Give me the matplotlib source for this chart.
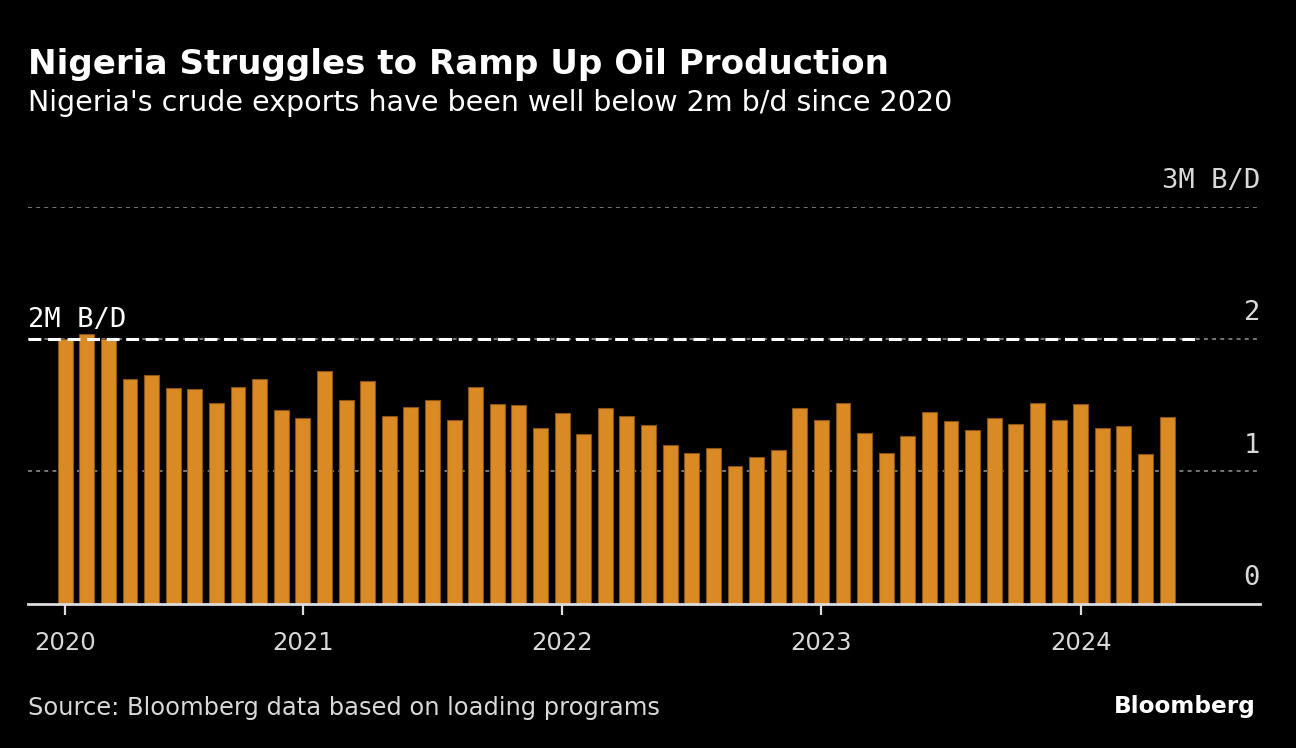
import matplotlib
matplotlib.use("Agg")
import matplotlib.pyplot as plt
import matplotlib.transforms as mtransforms
import numpy as np

# Monthly crude exports, million b/d (Feb 2020 .. May 2024)
months = [f"{y}-{m:02d}" for y in range(2020, 2025) for m in range(1, 13)][1:53]
exports = [2.00, 2.04, 2.00, 1.70, 1.73, 1.63, 1.625, 1.52, 1.635, 1.70, 1.46,
           1.40, 1.76, 1.54, 1.68, 1.42, 1.49, 1.54, 1.39, 1.64, 1.51, 1.50,
           1.33, 1.44, 1.28, 1.48, 1.42, 1.35, 1.20, 1.14, 1.18, 1.04, 1.11,
           1.16, 1.48, 1.39, 1.52, 1.29, 1.14, 1.27, 1.45, 1.38, 1.31, 1.40,
           1.36, 1.52, 1.39, 1.51, 1.33, 1.34, 1.13, 1.41]
year_ticks = ["2020", "2021", "2022", "2023", "2024"]
year_tick_months = ["2020-02", "2021-01", "2022-01", "2023-01", "2024-01"]
y_ticks = [0, 1, 2, 3]
y_tick_labels = ["0", "1", "2", "3M B/D"]
threshold = 2.0
threshold_label = "2M B/D"

title = "Nigeria Struggles to Ramp Up Oil Production"
subtitle = "Nigeria's crude exports have been well below 2m b/d since 2020"
source = "Source: Bloomberg data based on loading programs"

W, H = 1296, 748
fig = plt.figure(figsize=(W / 100, H / 100), dpi=100, facecolor="black")

ax_left, ax_right = 28, 1260
ax_top, ax_bot = 206.7, 603.7
ax = fig.add_axes([ax_left / W, 1 - ax_bot / H, (ax_right - ax_left) / W, (ax_bot - ax_top) / H])
ax.set_facecolor("black")

x = np.arange(len(exports))
ax.bar(x, exports, width=0.69, color="#DA8A24", edgecolor="#8a5418", linewidth=0.8, zorder=3)

ax.set_xlim(-1.72, 55.3)
ax.set_ylim(0, 3)

# gridlines
for yv in y_ticks[1:]:
    ax.axhline(yv, color="#777777", lw=1.4, ls=(0, (2, 2.2)), zorder=1)
# threshold dashed line
ax.plot([-1.72, 52.58], [threshold, threshold], color="white", lw=2.2,
        ls=(0, (4.2, 2.2)), zorder=4)
ax.text(0.0, threshold, threshold_label,
        transform=ax.get_yaxis_transform() +
        mtransforms.ScaledTranslation(0, 9 / 72, fig.dpi_scale_trans),
        ha="left", va="baseline", color="white", fontsize=19.5,
        fontfamily="DejaVu Sans Mono")

# y labels on the right, above gridlines
for yv, lab in zip(y_ticks, y_tick_labels):
    ax.annotate(lab, xy=(1.0, yv), xycoords=ax.get_yaxis_transform(),
                xytext=(0, 13.5), textcoords="offset points",
                ha="right", va="baseline", color="#d9d9d9", fontsize=19.5,
                fontfamily="DejaVu Sans Mono")

for s in ["top", "right", "left"]:
    ax.spines[s].set_visible(False)
ax.spines["bottom"].set_color("#dddddd")
ax.spines["bottom"].set_linewidth(2)
ax.spines["bottom"].set_zorder(5)
ax.set_yticks([])
tick_pos = [months.index(m) for m in year_tick_months]
ax.set_xticks(tick_pos)
ax.set_xticklabels(year_ticks)
ax.tick_params(axis="x", colors="#dddddd", length=8, width=1.6, pad=12,
               labelsize=17.5, labelcolor="#d9d9d9")

fig.text(28 / W, 1 - 74 / H, title, color="white", fontsize=24.6,
         fontweight="bold", ha="left", va="baseline")
fig.text(28 / W, 1 - 111 / H, subtitle, color="white", fontsize=20.5,
         ha="left", va="baseline")
fig.text(28 / W, 1 - 715.5 / H, source, color="#d9d9d9", fontsize=17.4,
         ha="left", va="baseline")
fig.text(1256 / W, 1 - 713 / H, "Bloomberg", color="white", fontsize=16.7,
         fontweight="bold", ha="right", va="baseline")

fig.savefig("out.png", dpi=100, facecolor="black")
